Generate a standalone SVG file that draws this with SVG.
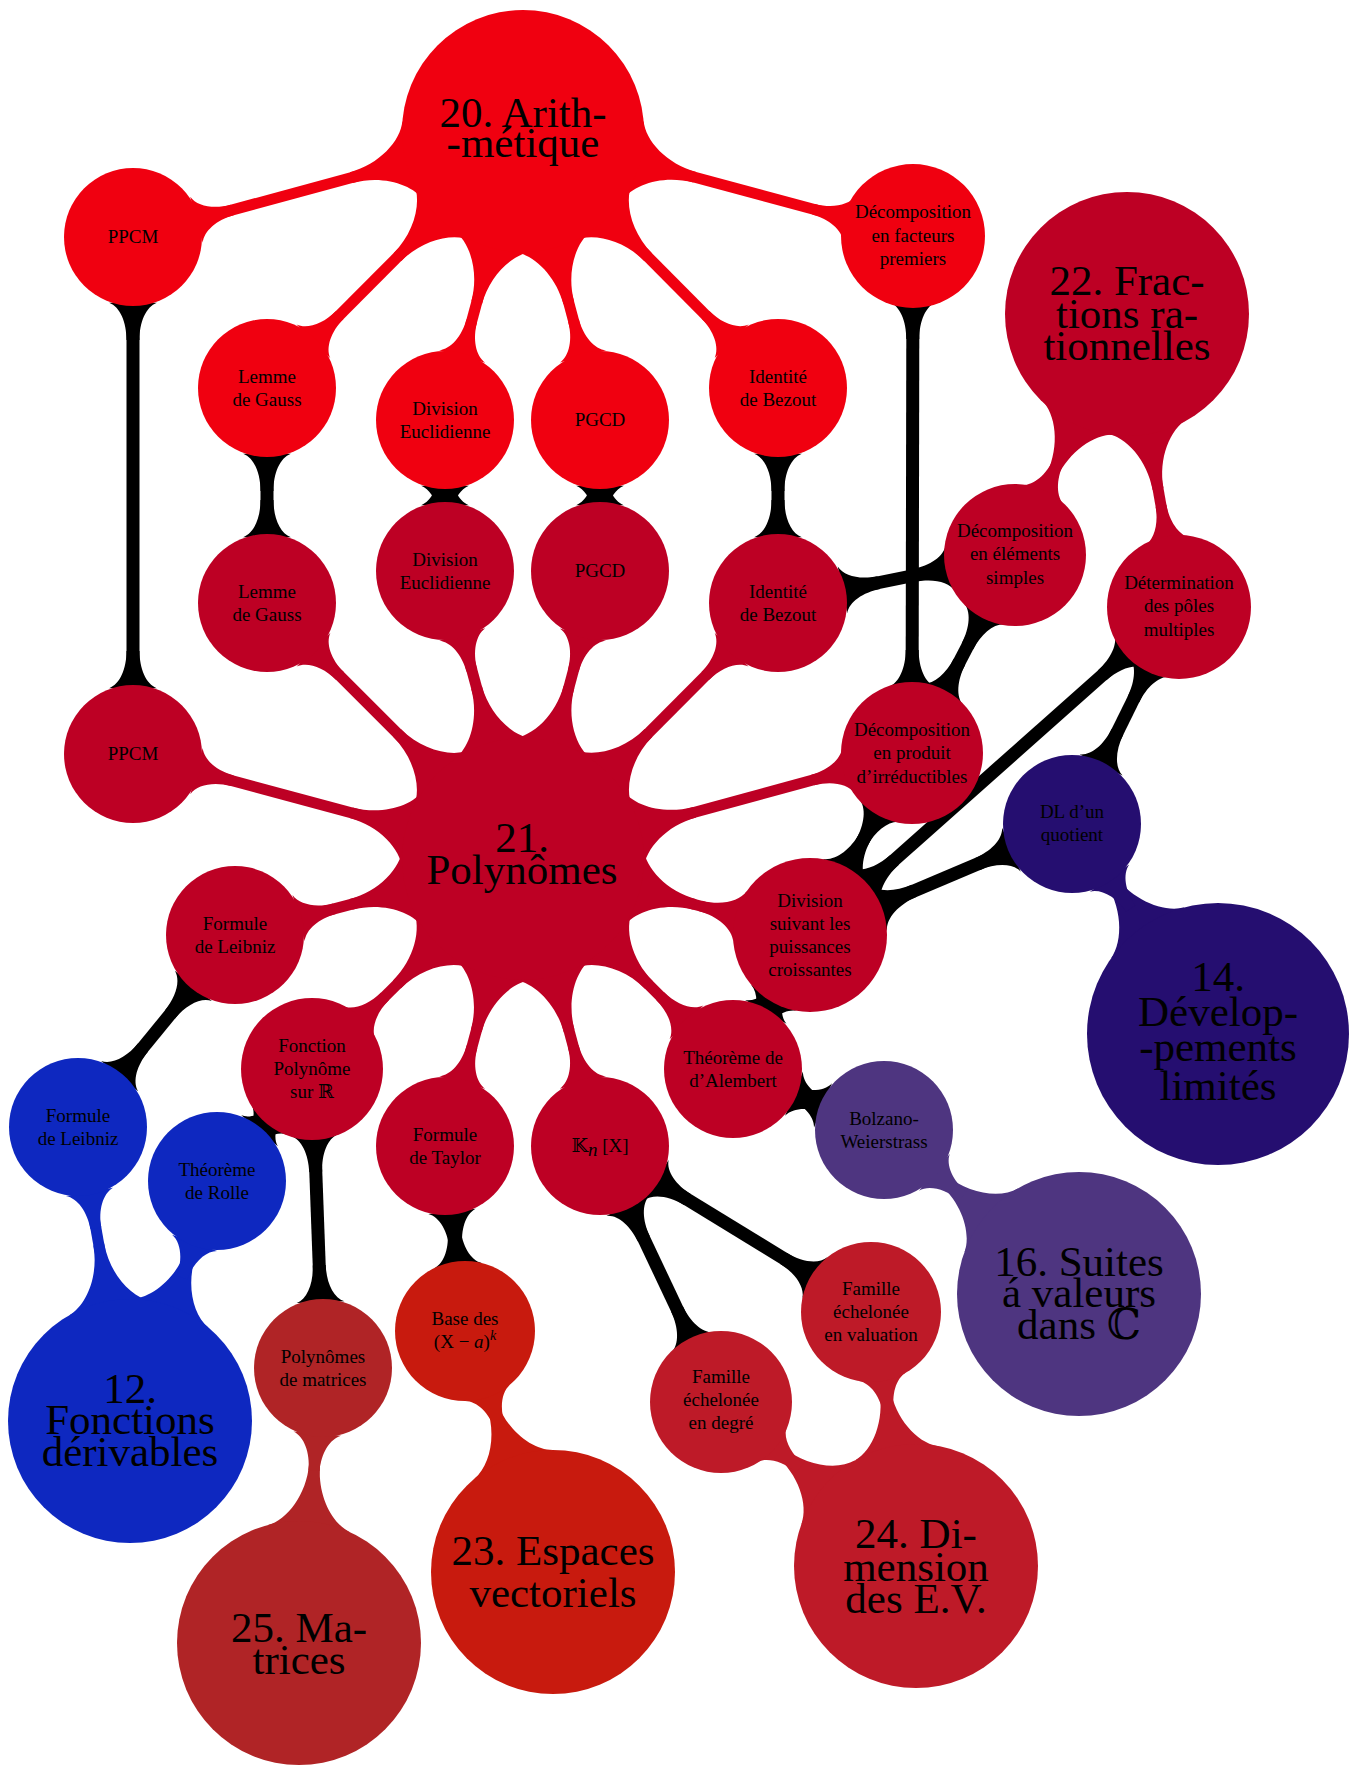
<svg xmlns="http://www.w3.org/2000/svg" width="1362" height="1766" viewBox="0 0 1362 1766">
<style>
.t{font-family:"Liberation Serif","DejaVu Serif",serif;font-size:19px;text-anchor:middle;fill:#000}
.T{font-family:"Liberation Serif","DejaVu Serif",serif;font-size:43px;text-anchor:middle;fill:#000}
.m{font-family:"Liberation Serif","DejaVu Serif","DejaVu Sans",serif}
.k{stroke:#000;stroke-width:13;fill:none}
.l20{stroke:#F00010;stroke-width:11;fill:none}
.l21{stroke:#BD0024;stroke-width:11;fill:none}
.l14{stroke:#250E70;stroke-width:11;fill:none}
.l16{stroke:#4E3580;stroke-width:11;fill:none}
.l12{stroke:#0E28C0;stroke-width:11;fill:none}
.l25{stroke:#B02426;stroke-width:11;fill:none}
.l23{stroke:#C81A0E;stroke-width:11;fill:none}
.l24{stroke:#BE1A28;stroke-width:11;fill:none}
.f20{fill:#F00010}.f21{fill:#BD0024}.f14{fill:#250E70}.f16{fill:#4E3580}
.f12{fill:#0E28C0}.f25{fill:#B02426}.f23{fill:#C81A0E}.f24{fill:#BE1A28}
</style>
<defs>
<marker id="bk70" viewBox="-200 -200 400 400" markerWidth="400" markerHeight="400" refX="0" refY="0" markerUnits="userSpaceOnUse" orient="auto-start-reverse"><path fill="#000" d="M-65.8,23.9 C-69.9,12.8 -85.4,6.5 -102.9,6.5 L-102.9,-6.5 C-85.4,-6.5 -69.9,-12.8 -65.8,-23.9 Z"/></marker>
<marker id="bk77" viewBox="-200 -200 400 400" markerWidth="400" markerHeight="400" refX="0" refY="0" markerUnits="userSpaceOnUse" orient="auto-start-reverse"><path fill="#000" d="M-72.4,26.3 C-76.8,14.0 -93.9,6.5 -113.2,6.5 L-113.2,-6.5 C-93.9,-6.5 -76.8,-14.0 -72.4,-26.3 Z"/></marker>
<marker id="m20B" viewBox="-200 -200 400 400" markerWidth="400" markerHeight="400" refX="0" refY="0" markerUnits="userSpaceOnUse" orient="auto-start-reverse"><path fill="#F00010" d="M-113.7,41.4 C-120.7,22.1 -147.6,5.5 -177.9,5.5 L-177.9,-5.5 C-147.6,-5.5 -120.7,-22.1 -113.7,-41.4 Z"/></marker>
<marker id="m20S" viewBox="-200 -200 400 400" markerWidth="400" markerHeight="400" refX="0" refY="0" markerUnits="userSpaceOnUse" orient="auto-start-reverse"><path fill="#F00010" d="M-65.8,23.9 C-69.9,12.8 -85.4,5.5 -102.9,5.5 L-102.9,-5.5 C-85.4,-5.5 -69.9,-12.8 -65.8,-23.9 Z"/></marker>
<marker id="m21B" viewBox="-200 -200 400 400" markerWidth="400" markerHeight="400" refX="0" refY="0" markerUnits="userSpaceOnUse" orient="auto-start-reverse"><path fill="#BD0024" d="M-113.7,41.4 C-120.7,22.1 -147.6,5.5 -177.9,5.5 L-177.9,-5.5 C-147.6,-5.5 -120.7,-22.1 -113.7,-41.4 Z"/></marker>
<marker id="m21S" viewBox="-200 -200 400 400" markerWidth="400" markerHeight="400" refX="0" refY="0" markerUnits="userSpaceOnUse" orient="auto-start-reverse"><path fill="#BD0024" d="M-65.8,23.9 C-69.9,12.8 -85.4,5.5 -102.9,5.5 L-102.9,-5.5 C-85.4,-5.5 -69.9,-12.8 -65.8,-23.9 Z"/></marker>
<marker id="m21S77" viewBox="-200 -200 400 400" markerWidth="400" markerHeight="400" refX="0" refY="0" markerUnits="userSpaceOnUse" orient="auto-start-reverse"><path fill="#BD0024" d="M-72.4,26.3 C-76.8,14.0 -93.9,5.5 -113.2,5.5 L-113.2,-5.5 C-93.9,-5.5 -76.8,-14.0 -72.4,-26.3 Z"/></marker>
<marker id="m14B" viewBox="-200 -200 400 400" markerWidth="400" markerHeight="400" refX="0" refY="0" markerUnits="userSpaceOnUse" orient="auto-start-reverse"><path fill="#250E70" d="M-123.1,44.8 C-130.7,23.9 -159.8,5.5 -192.6,5.5 L-192.6,-5.5 C-159.8,-5.5 -130.7,-23.9 -123.1,-44.8 Z"/></marker>
<marker id="m14S" viewBox="-200 -200 400 400" markerWidth="400" markerHeight="400" refX="0" refY="0" markerUnits="userSpaceOnUse" orient="auto-start-reverse"><path fill="#250E70" d="M-65.8,23.9 C-69.9,12.8 -85.4,5.5 -102.9,5.5 L-102.9,-5.5 C-85.4,-5.5 -69.9,-12.8 -65.8,-23.9 Z"/></marker>
<marker id="m16B" viewBox="-200 -200 400 400" markerWidth="400" markerHeight="400" refX="0" refY="0" markerUnits="userSpaceOnUse" orient="auto-start-reverse"><path fill="#4E3580" d="M-114.6,41.7 C-121.7,22.2 -148.8,5.5 -179.3,5.5 L-179.3,-5.5 C-148.8,-5.5 -121.7,-22.2 -114.6,-41.7 Z"/></marker>
<marker id="m16S" viewBox="-200 -200 400 400" markerWidth="400" markerHeight="400" refX="0" refY="0" markerUnits="userSpaceOnUse" orient="auto-start-reverse"><path fill="#4E3580" d="M-65.8,23.9 C-69.9,12.8 -85.4,5.5 -102.9,5.5 L-102.9,-5.5 C-85.4,-5.5 -69.9,-12.8 -65.8,-23.9 Z"/></marker>
<marker id="m12B" viewBox="-200 -200 400 400" markerWidth="400" markerHeight="400" refX="0" refY="0" markerUnits="userSpaceOnUse" orient="auto-start-reverse"><path fill="#0E28C0" d="M-114.6,41.7 C-121.7,22.2 -148.8,5.5 -179.3,5.5 L-179.3,-5.5 C-148.8,-5.5 -121.7,-22.2 -114.6,-41.7 Z"/></marker>
<marker id="m12S" viewBox="-200 -200 400 400" markerWidth="400" markerHeight="400" refX="0" refY="0" markerUnits="userSpaceOnUse" orient="auto-start-reverse"><path fill="#0E28C0" d="M-65.8,23.9 C-69.9,12.8 -85.4,5.5 -102.9,5.5 L-102.9,-5.5 C-85.4,-5.5 -69.9,-12.8 -65.8,-23.9 Z"/></marker>
<marker id="m25B" viewBox="-200 -200 400 400" markerWidth="400" markerHeight="400" refX="0" refY="0" markerUnits="userSpaceOnUse" orient="auto-start-reverse"><path fill="#B02426" d="M-114.6,41.7 C-121.7,22.2 -148.8,5.5 -179.3,5.5 L-179.3,-5.5 C-148.8,-5.5 -121.7,-22.2 -114.6,-41.7 Z"/></marker>
<marker id="m25S" viewBox="-200 -200 400 400" markerWidth="400" markerHeight="400" refX="0" refY="0" markerUnits="userSpaceOnUse" orient="auto-start-reverse"><path fill="#B02426" d="M-65.8,23.9 C-69.9,12.8 -85.4,5.5 -102.9,5.5 L-102.9,-5.5 C-85.4,-5.5 -69.9,-12.8 -65.8,-23.9 Z"/></marker>
<marker id="m23B" viewBox="-200 -200 400 400" markerWidth="400" markerHeight="400" refX="0" refY="0" markerUnits="userSpaceOnUse" orient="auto-start-reverse"><path fill="#C81A0E" d="M-114.6,41.7 C-121.7,22.2 -148.8,5.5 -179.3,5.5 L-179.3,-5.5 C-148.8,-5.5 -121.7,-22.2 -114.6,-41.7 Z"/></marker>
<marker id="m23S" viewBox="-200 -200 400 400" markerWidth="400" markerHeight="400" refX="0" refY="0" markerUnits="userSpaceOnUse" orient="auto-start-reverse"><path fill="#C81A0E" d="M-65.8,23.9 C-69.9,12.8 -85.4,5.5 -102.9,5.5 L-102.9,-5.5 C-85.4,-5.5 -69.9,-12.8 -65.8,-23.9 Z"/></marker>
<marker id="m24B" viewBox="-200 -200 400 400" markerWidth="400" markerHeight="400" refX="0" refY="0" markerUnits="userSpaceOnUse" orient="auto-start-reverse"><path fill="#BE1A28" d="M-114.6,41.7 C-121.7,22.2 -148.8,5.5 -179.3,5.5 L-179.3,-5.5 C-148.8,-5.5 -121.7,-22.2 -114.6,-41.7 Z"/></marker>
<marker id="m24S" viewBox="-200 -200 400 400" markerWidth="400" markerHeight="400" refX="0" refY="0" markerUnits="userSpaceOnUse" orient="auto-start-reverse"><path fill="#BE1A28" d="M-65.8,23.9 C-69.9,12.8 -85.4,5.5 -102.9,5.5 L-102.9,-5.5 C-85.4,-5.5 -69.9,-12.8 -65.8,-23.9 Z"/></marker>
</defs>
<rect width="1362" height="1766" fill="#fff"/>
<g id="connectors">
<g marker-start="url(#m20B)" marker-end="url(#m20S)" class="l20">
<path d="M523 131 L133 237"/><path d="M523 131 L267 388"/><path d="M523 131 L445 420"/><path d="M523 131 L600 420"/><path d="M523 131 L778 388"/><path d="M523 131 L913 236"/>
</g>
<g marker-start="url(#m21B)" marker-end="url(#m21S)" class="l21">
<path d="M523 859 L133 754"/><path d="M523 859 L267 603"/><path d="M523 859 L445 571"/><path d="M523 859 L600 571"/><path d="M523 859 L778 603"/><path d="M523 859 L912 753"/><path d="M523 859 L733 1069"/><path d="M523 859 L600 1146"/><path d="M523 859 L445 1146"/><path d="M523 859 L312 1069"/><path d="M523 859 L235 935"/>
<path d="M1127 314 L1015 555"/><path d="M1127 314 L1179 607"/>
</g>
<path class="l21" d="M523 859 L810 935" marker-start="url(#m21B)" marker-end="url(#m21S77)"/>
<path class="l14" d="M1218 1034 L1072 824" marker-start="url(#m14B)" marker-end="url(#m14S)"/>
<path class="l16" d="M1079 1294 L884 1130" marker-start="url(#m16B)" marker-end="url(#m16S)"/>
<g class="l12" marker-start="url(#m12B)" marker-end="url(#m12S)"><path d="M130 1421 L78 1127"/><path d="M130 1421 L217 1181"/></g>
<path class="l25" d="M299 1643 L323 1368" marker-start="url(#m25B)" marker-end="url(#m25S)"/>
<path class="l23" d="M553 1572 L465 1331" marker-start="url(#m23B)" marker-end="url(#m23S)"/>
<g class="l24" marker-start="url(#m24B)" marker-end="url(#m24S)"><path d="M916 1566 L721 1402"/><path d="M916 1566 L871 1312"/></g>
<g class="k" marker-start="url(#bk70)" marker-end="url(#bk70)">
<path d="M133 237 L133 754"/><path d="M267 388 L267 603"/><path d="M445 420 L445 571"/><path d="M600 420 L600 571"/><path d="M778 388 L778 603"/><path d="M913 236 L912 753"/>
<path d="M778 603 L1015 555"/><path d="M1015 555 L912 753"/><path d="M1179 607 L1072 824"/><path d="M733 1069 L884 1130"/>
<path d="M600 1146 L721 1402"/><path d="M600 1146 L871 1312"/><path d="M445 1146 L465 1331"/><path d="M312 1069 L323 1368"/><path d="M312 1069 L217 1181"/><path d="M235 935 L78 1127"/>
</g>
<g class="k" marker-start="url(#bk77)" marker-end="url(#bk70)">
<path d="M810 935 L912 753"/><path d="M810 935 L1179 607"/><path d="M810 935 L1072 824"/><path d="M810 935 L733 1069"/>
</g>
</g>
<g id="n20"><circle class="f20" cx="523" cy="131" r="121"/><text class="T"><tspan x="523" y="127">20. Arith-</tspan><tspan x="523" y="157">-métique</tspan></text></g>
<g id="n21"><circle class="f21" cx="523" cy="859" r="121"/><text class="T"><tspan x="522" y="852">21.</tspan><tspan x="522" y="884">Polynômes</tspan></text></g>
<g id="n22"><circle class="f21" cx="1127" cy="314" r="122"/><text class="T"><tspan x="1127" y="295">22. Frac-</tspan><tspan x="1127" y="328">tions ra-</tspan><tspan x="1127" y="360">tionnelles</tspan></text></g>
<g id="n14"><circle class="f14" cx="1218" cy="1034" r="131"/><text class="T"><tspan x="1218" y="991">14.</tspan><tspan x="1218" y="1026">Dévelop-</tspan><tspan x="1218" y="1061">-pements</tspan><tspan x="1218" y="1100">limités</tspan></text></g>
<g id="n16"><circle class="f16" cx="1079" cy="1294" r="122"/><text class="T"><tspan x="1079" y="1276">16. Suites</tspan><tspan x="1079" y="1307">á valeurs</tspan><tspan x="1079" y="1339">dans ℂ</tspan></text></g>
<g id="n12"><circle class="f12" cx="130" cy="1421" r="122"/><text class="T"><tspan x="130" y="1403">12.</tspan><tspan x="130" y="1434">Fonctions</tspan><tspan x="130" y="1466">dérivables</tspan></text></g>
<g id="n25"><circle class="f25" cx="299" cy="1643" r="122"/><text class="T"><tspan x="299" y="1642">25. Ma-</tspan><tspan x="299" y="1674">trices</tspan></text></g>
<g id="n23"><circle class="f23" cx="553" cy="1572" r="122"/><text class="T"><tspan x="553" y="1565">23. Espaces</tspan><tspan x="553" y="1607">vectoriels</tspan></text></g>
<g id="n24"><circle class="f24" cx="916" cy="1566" r="122"/><text class="T"><tspan x="916" y="1548">24. Di-</tspan><tspan x="916" y="1581">mension</tspan><tspan x="916" y="1613">des E.V.</tspan></text></g>
<g id="ppcm_t"><circle class="f20" cx="133" cy="237" r="69"/><text class="t" x="133" y="243">PPCM</text></g>
<g id="lemme_t"><circle class="f20" cx="267" cy="388" r="69"/><text class="t"><tspan x="267" y="383">Lemme</tspan><tspan x="267" y="406">de Gauss</tspan></text></g>
<g id="dive_t"><circle class="f20" cx="445" cy="420" r="69"/><text class="t"><tspan x="445" y="415">Division</tspan><tspan x="445" y="438">Euclidienne</tspan></text></g>
<g id="pgcd_t"><circle class="f20" cx="600" cy="420" r="69"/><text class="t" x="600" y="426">PGCD</text></g>
<g id="bezout_t"><circle class="f20" cx="778" cy="388" r="69"/><text class="t"><tspan x="778" y="383">Identité</tspan><tspan x="778" y="406">de Bezout</tspan></text></g>
<g id="decfact"><circle class="f20" cx="913" cy="236" r="72"/><text class="t"><tspan x="913" y="218">Décomposition</tspan><tspan x="913" y="242">en facteurs</tspan><tspan x="913" y="265">premiers</tspan></text></g>
<g id="ppcm_b"><circle class="f21" cx="133" cy="754" r="69"/><text class="t" x="133" y="760">PPCM</text></g>
<g id="lemme_b"><circle class="f21" cx="267" cy="603" r="69"/><text class="t"><tspan x="267" y="598">Lemme</tspan><tspan x="267" y="621">de Gauss</tspan></text></g>
<g id="dive_b"><circle class="f21" cx="445" cy="571" r="69"/><text class="t"><tspan x="445" y="566">Division</tspan><tspan x="445" y="589">Euclidienne</tspan></text></g>
<g id="pgcd_b"><circle class="f21" cx="600" cy="571" r="69"/><text class="t" x="600" y="577">PGCD</text></g>
<g id="bezout_b"><circle class="f21" cx="778" cy="603" r="69"/><text class="t"><tspan x="778" y="598">Identité</tspan><tspan x="778" y="621">de Bezout</tspan></text></g>
<g id="decprod"><circle class="f21" cx="912" cy="753" r="71"/><text class="t"><tspan x="912" y="736">Décomposition</tspan><tspan x="912" y="759">en produit</tspan><tspan x="912" y="783">d’irréductibles</tspan></text></g>
<g id="decelem"><circle class="f21" cx="1015" cy="555" r="71"/><text class="t"><tspan x="1015" y="537">Décomposition</tspan><tspan x="1015" y="560">en éléments</tspan><tspan x="1015" y="584">simples</tspan></text></g>
<g id="detpoles"><circle class="f21" cx="1179" cy="607" r="72"/><text class="t"><tspan x="1179" y="589">Détermination</tspan><tspan x="1179" y="612">des pôles</tspan><tspan x="1179" y="636">multiples</tspan></text></g>
<g id="dlq"><circle class="f14" cx="1072" cy="824" r="69"/><text class="t"><tspan x="1072" y="818">DL d’un</tspan><tspan x="1072" y="841">quotient</tspan></text></g>
<g id="divpuiss"><circle class="f21" cx="810" cy="935" r="77"/><text class="t"><tspan x="810" y="907">Division</tspan><tspan x="810" y="930">suivant les</tspan><tspan x="810" y="953">puissances</tspan><tspan x="810" y="976">croissantes</tspan></text></g>
<g id="alembert"><circle class="f21" cx="733" cy="1069" r="69"/><text class="t"><tspan x="733" y="1064">Théorème de</tspan><tspan x="733" y="1087">d’Alembert</tspan></text></g>
<g id="bolzano"><circle class="f16" cx="884" cy="1130" r="69"/><text class="t"><tspan x="884" y="1125">Bolzano-</tspan><tspan x="884" y="1148">Weierstrass</tspan></text></g>
<g id="kn"><circle class="f21" cx="600" cy="1146" r="69"/><text class="t m" x="600" y="1152">𝕂<tspan font-style="italic" dy="4">n</tspan><tspan dy="-4"> [X]</tspan></text></g>
<g id="taylor"><circle class="f21" cx="445" cy="1146" r="69"/><text class="t"><tspan x="445" y="1141">Formule</tspan><tspan x="445" y="1164">de Taylor</tspan></text></g>
<g id="foncpoly"><circle class="f21" cx="312" cy="1069" r="71"/><text class="t m"><tspan x="312" y="1052">Fonction</tspan><tspan x="312" y="1075">Polynôme</tspan><tspan x="312" y="1098">sur ℝ</tspan></text></g>
<g id="leibniz_r"><circle class="f21" cx="235" cy="935" r="69"/><text class="t"><tspan x="235" y="930">Formule</tspan><tspan x="235" y="953">de Leibniz</tspan></text></g>
<g id="leibniz_b"><circle class="f12" cx="78" cy="1127" r="69"/><text class="t"><tspan x="78" y="1122">Formule</tspan><tspan x="78" y="1145">de Leibniz</tspan></text></g>
<g id="rolle"><circle class="f12" cx="217" cy="1181" r="69"/><text class="t"><tspan x="217" y="1176">Théorème</tspan><tspan x="217" y="1199">de Rolle</tspan></text></g>
<g id="polymat"><circle class="f25" cx="323" cy="1368" r="69"/><text class="t"><tspan x="323" y="1363">Polynômes</tspan><tspan x="323" y="1386">de matrices</tspan></text></g>
<g id="base"><circle class="f23" cx="465" cy="1331" r="70"/><text class="t"><tspan x="465" y="1325">Base des</tspan><tspan x="465" y="1348">(X − <tspan font-style="italic">a</tspan>)<tspan font-style="italic" font-size="14" dy="-8">k</tspan></tspan></text></g>
<g id="famdeg"><circle class="f24" cx="721" cy="1402" r="71"/><text class="t"><tspan x="721" y="1383">Famille</tspan><tspan x="721" y="1406">échelonée</tspan><tspan x="721" y="1429">en degré</tspan></text></g>
<g id="famval"><circle class="f24" cx="871" cy="1312" r="70"/><text class="t"><tspan x="871" y="1295">Famille</tspan><tspan x="871" y="1318">échelonée</tspan><tspan x="871" y="1341">en valuation</tspan></text></g>
</svg>
